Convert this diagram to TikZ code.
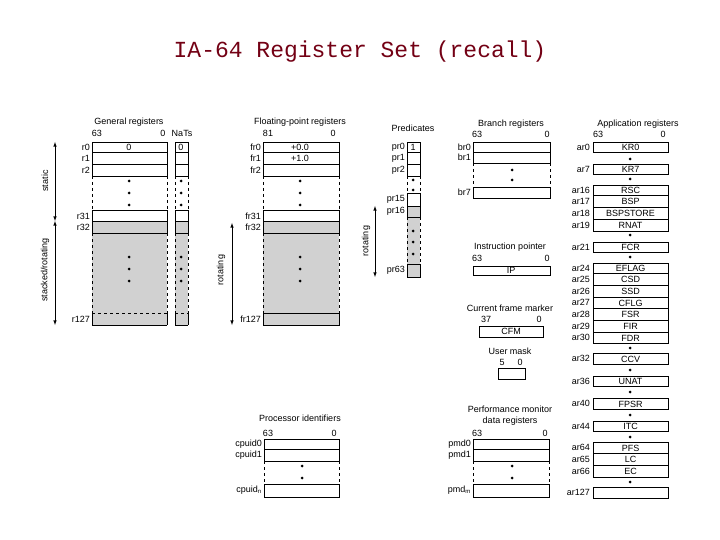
\documentclass[tikz,border=0pt]{standalone}
\usepackage{fontspec}
\setmainfont{Liberation Sans}
\newfontfamily\titlefont{Liberation Mono}
\definecolor{titlered}{rgb}{0.45,0.0,0.08}
\definecolor{regfill}{gray}{0.82}
\tikzset{
  lbl/.style={font=\fontsize{9}{10}\selectfont, inner sep=0pt},
  rlbl/.style={lbl, anchor=east},
  reg/.style={draw, line width=0.6pt},
  shaded/.style={reg, fill=regfill},
  side/.style={dash pattern=on 3pt off 3pt, line width=0.6pt},
  dot/.style={fill=black},
  span/.style={<->, >=latex, line width=0.6pt},
}
\newcommand{\regdot}[2]{\fill (#1,#2) circle (1.5);}
\begin{document}
\begin{tikzpicture}[x=1pt,y=-1pt]
\useasboundingbox (0,0) rectangle (720,540);

\node[font=\titlefont\fontsize{23}{26}\selectfont, text=titlered] (title) at (360,52) {IA-64 Register Set (recall)};

% general registers
\node[lbl] (grtitle) at (129,122) {General registers};
\node[lbl] at (97,133) {63};
\node[lbl] at (163,133) {0};
\node[lbl] at (182,133) {NaTs};
\fill[regfill] (92,221) rectangle (167,325);
\fill[regfill] (175,221) rectangle (188,325);
\foreach \a/\b in {142/152,152/164,164/176,210/221,221/233} {
  \draw[reg] (92,\a) rectangle (167,\b);
  \draw[reg] (175,\a) rectangle (188,\b);
}
\draw[reg] (92,325) -- (167,325); \draw[reg] (175,325) -- (188,325);
\draw[reg] (92,313) -- (92,325) (167,313) -- (167,325) (175,313) -- (175,325) (188,313) -- (188,325);
\draw[side] (92,313) -- (167,313) (175,313) -- (188,313);
\foreach \x in {92,167,175,188} {
  \draw[side] (\x,176) -- (\x,210);
  \draw[side] (\x,233) -- (\x,313);
}
\node[lbl] at (129,147) {0};
\node[lbl] at (181,147) {0};
\foreach \y in {181,193,205,257,269,281} { \regdot{129}{\y} \regdot{181}{\y} }
\foreach \n/\y in {r0/147,r1/158,r2/170,r31/216,r32/227,r127/319}
  \node[rlbl] at (90,\y) {\n};
\coordinate (stTop) at (55,142); \coordinate (stMid) at (55,221); \coordinate (stBot) at (55,325);
\draw[span] (stTop) -- (stMid);
\draw[span] (stMid) -- (stBot);
\node[lbl, rotate=90] at (45,181) {static};
\node[lbl, rotate=90] at (45,270) {stacked/rotating};

% floating-point registers
\node[lbl] (fptitle) at (300,122) {Floating-point registers};
\node[lbl] at (268,133) {81};
\node[lbl] at (333,133) {0};
\fill[regfill] (263,221) rectangle (339,325);
\foreach \a/\b in {142/152,152/164,164/176,210/221,221/233,313/325}
  \draw[reg] (263,\a) rectangle (339,\b);
\foreach \x in {263,339} {
  \draw[side] (\x,176) -- (\x,210);
  \draw[side] (\x,233) -- (\x,313);
}
\node[lbl] at (300,147) {+0.0};
\node[lbl] at (300,158) {+1.0};
\foreach \y in {181,193,205,257,269,281} {\regdot{300}{\y}}
\foreach \n/\y in {fr0/147,fr1/158,fr2/170,fr31/216,fr32/227,fr127/319}
  \node[rlbl] at (261,\y) {\n};
\coordinate (frTop) at (232,223); \coordinate (frBot) at (232,325);
\draw[span] (frTop) -- (frBot);
\node[lbl, rotate=90] at (221,270) {rotating};

% predicates
\node[lbl] (prtitle) at (413,128) {Predicates};
\fill[regfill] (407,206) rectangle (420,277);
\foreach \a/\b in {142/152,152/164,164/176,193/206,206/217,264/277}
  \draw[reg] (407,\a) rectangle (420,\b);
\foreach \x in {407,420} {
  \draw[side] (\x,176) -- (\x,193);
  \draw[side] (\x,217) -- (\x,264);
}
\node[lbl] at (413,147) {1};
\foreach \y in {180,190,231,242,254} {\regdot{413}{\y}}
\foreach \n/\y in {pr0/147,pr1/158,pr2/170,pr15/199,pr16/211,pr63/270}
  \node[rlbl] at (405,\y) {\n};
\coordinate (prTop) at (375,206); \coordinate (prBot) at (375,277);
\draw[span] (prTop) -- (prBot);
\node[lbl, rotate=90] at (366,241) {rotating};

% branch registers
\node[lbl] (brtitle) at (511,124) {Branch registers};
\node[lbl] at (477,134) {63};
\node[lbl] at (547,134) {0};
\foreach \a/\b in {142/152,152/163,187/198}
  \draw[reg] (473,\a) rectangle (550,\b);
\draw[side] (473,163) -- (473,187) (550,163) -- (550,187);
\regdot{512}{170} \regdot{512}{180}
\foreach \n/\y in {br0/147,br1/157,br7/192}
  \node[rlbl] at (471,\y) {\n};

% instruction pointer
\node[lbl] (iptitle) at (510,247) {Instruction pointer};
\node[lbl] at (477,258) {63};
\node[lbl] at (547,258) {0};
\draw[reg] (473,266) rectangle (550,275);
\node[lbl] (ip) at (511,270.5) {IP};

% current frame marker
\node[lbl] (cfmtitle) at (510,308) {Current frame marker};
\node[lbl] at (486,319) {37};
\node[lbl] at (539,319) {0};
\draw[reg] (479,326) rectangle (543,337);
\node[lbl] (cfm) at (511,331.5) {CFM};

% user mask
\node[lbl] (umtitle) at (510,351) {User mask};
\node[lbl] at (502,362) {5};
\node[lbl] at (520,362) {0};
\draw[reg] (498,368) rectangle (525,379);

% processor identifiers
\node[lbl] (cputitle) at (300,418) {Processor identifiers};
\node[lbl] at (268,433) {63};
\node[lbl] at (334,433) {0};
\foreach \a/\b in {439/449,449/461,484/497}
  \draw[reg] (264,\a) rectangle (339,\b);
\draw[side] (264,461) -- (264,484) (339,461) -- (339,484);
\regdot{302}{466} \regdot{302}{478}
\node[rlbl] at (262,444) {cpuid0};
\node[rlbl] at (262,455) {cpuid1};
\node[rlbl] at (262,490) {cpuid$_{\mathrm{n}}$};

% performance monitor data registers
\node[lbl] (pmdtitle) at (510,409) {Performance monitor};
\node[lbl] at (510,421) {data registers};
\node[lbl] at (477,433) {63};
\node[lbl] at (545,433) {0};
\foreach \a/\b in {439/449,449/461,484/497}
  \draw[reg] (473,\a) rectangle (549,\b);
\draw[side] (473,461) -- (473,484) (549,461) -- (549,484);
\regdot{512}{466} \regdot{512}{478}
\node[rlbl] at (471,444) {pmd0};
\node[rlbl] at (471,455) {pmd1};
\node[rlbl] at (471,490) {pmd$_{\mathrm{m}}$};

% application registers
\node[lbl] (artitle) at (638,124) {Application registers};
\node[lbl] at (598,134) {63};
\node[lbl] at (663,134) {0};
\foreach \n/\t/\a/\b in {ar0/KR0/142/152, ar7/KR7/164/174, ar16/RSC/185/195,
    ar17/BSP/195/207, ar18/BSPSTORE/207/219, ar19/RNAT/219/231, ar21/FCR/242/252,
    ar24/EFLAG/263/273, ar25/CSD/273/285, ar26/SSD/285/297, ar27/CFLG/297/308,
    ar28/FSR/308/320, ar29/FIR/320/332, ar30/FDR/332/343, ar32/CCV/353/364,
    ar36/UNAT/376/386, ar40/FPSR/398/409, ar44/ITC/421/431, ar64/PFS/442/453,
    ar65/LC/453/465, ar66/EC/465/477, ar127//487/498} {
  \draw[reg] (593,\a) rectangle (668,\b);
  \node[lbl] at (630.5,{(\a+\b)/2+0.5}) {\t};
  \node[rlbl] at (590,{(\a+\b)/2}) {\n};
}
\foreach \y in {159,179,235,257,348,370,392,415,437,482} {\regdot{630}{\y}}
\end{tikzpicture}
\end{document}
